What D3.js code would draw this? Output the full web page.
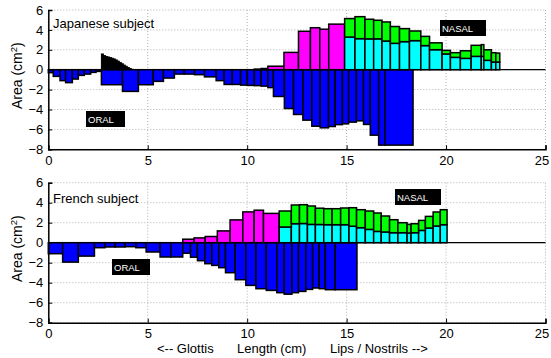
<!DOCTYPE html>
<html>
<head>
<meta charset="utf-8">
<script src="https://cdn.jsdelivr.net/npm/d3@7"></script>
<style>
  html, body { margin: 0; padding: 0; background: #fff; }
  svg { display: block; font-family: "Liberation Sans", Arial, Helvetica, sans-serif; }
</style>
</head>
<body>
<svg id="chart" width="551" height="358"></svg>
<script>
// ---------------- DATA ----------------
const xTicks = [0, 5, 10, 15, 20, 25];
const yTicks = [-8, -6, -4, -2, 0, 2, 4, 6];

// Japanese subject
const jpOralEdges = [0, 0.25, 0.59, 0.87, 1.21, 1.51, 1.81, 2.13, 2.40, 2.67, 3.73, 4.53, 5.28, 5.79, 6.34, 6.84, 7.35, 7.85, 8.44, 8.84, 9.25, 9.67, 10.01, 10.36, 10.70, 11.04, 11.32, 11.87, 12.33, 12.80, 13.25, 13.67, 14.09, 14.43, 14.79, 15.10, 15.49, 15.85, 16.19, 16.61, 16.92, 18.34];
const jpOralArea = [-0.3, -0.67, -1.1, -1.3, -0.94, -0.57, -0.44, -0.27, -0.17, -1.51, -2.18, -1.51, -1.17, -0.84, -0.44, -0.44, -0.5, -0.72, -1.1, -1.48, -1.48, -1.55, -1.58, -1.6, -1.65, -1.8, -2.69, -3.9, -4.5, -5.07, -5.68, -5.84, -5.71, -5.52, -5.44, -5.27, -5.14, -5.5, -6.58, -7.58, -7.58];
const jpSinusEdges = [2.67, 2.77, 2.87, 2.97, 3.07, 3.17, 3.27, 3.37, 3.47, 3.57, 3.67, 3.77, 3.87, 3.97, 4.07, 4.17, 4.27];
const jpSinusArea = [1.58, 1.42, 1.33, 1.28, 1.22, 1.15, 1.08, 0.98, 0.86, 0.72, 0.6, 0.46, 0.34, 0.22, 0.12, 0.04];
const jpUpperEdges = [10.36, 10.70, 11.04, 11.85, 12.58, 13.18, 13.65, 14.10, 14.90];
const jpUpperArea = [0.06, 0.12, 0.35, 1.74, 3.86, 4.22, 4.07, 4.58];
const jpNasalEdges = [14.90, 15.42, 15.92, 16.36, 16.78, 17.20, 17.66, 18.16, 18.73, 19.17, 19.80, 20.22, 20.72, 21.26, 21.77, 21.90, 22.28, 22.50, 22.70];
const jpNasalA = [3.28, 3.12, 3.10, 3.10, 2.88, 2.65, 2.82, 2.92, 2.42, 2.01, 1.58, 1.24, 1.14, 1.34, 1.34, 0.94, 0.77, 0.77];
const jpNasalB = [1.86, 2.21, 1.97, 1.87, 1.92, 1.69, 1.31, 0.97, 0.93, 0.69, 0.36, 0.47, 0.76, 1.11, 1.18, 1.06, 0.94, 0.90];

// French subject
const frOralEdges = [0, 0.72, 1.51, 2.32, 2.85, 3.36, 3.86, 4.40, 4.92, 5.62, 6.16, 6.76, 7.15, 7.50, 7.87, 8.22, 8.57, 8.91, 9.40, 9.93, 10.44, 10.96, 11.49, 11.86, 12.25, 12.58, 12.95, 13.29, 13.62, 13.93, 14.43, 15.52];
const frOralArea = [-1.1, -1.94, -1.34, -0.5, -0.43, -0.43, -0.4, -0.5, -0.93, -1.43, -1.43, -1.05, -1.45, -1.8, -2.1, -2.27, -2.5, -3.0, -3.7, -4.27, -4.6, -4.77, -5.0, -5.15, -5.0, -4.87, -4.67, -4.53, -4.6, -4.7, -4.7];
const frUpperEdges = [6.76, 7.33, 7.89, 8.50, 9.14, 9.78, 10.35, 10.82, 11.61];
const frUpperArea = [0.35, 0.48, 0.62, 1.18, 2.28, 3.08, 3.25, 2.93];
const frNasalEdges = [11.61, 12.22, 12.63, 13.03, 13.43, 13.85, 14.27, 14.70, 15.12, 15.50, 15.94, 16.36, 16.74, 17.16, 17.58, 18.04, 18.24, 18.62, 18.96, 19.35, 19.71, 20.05];
const frNasalA = [1.57, 1.90, 1.92, 1.83, 1.82, 1.80, 1.80, 1.80, 1.65, 1.50, 1.33, 1.13, 1.07, 1.00, 1.00, 0.97, 1.00, 1.23, 1.47, 1.67, 1.80];
const frNasalB = [1.60, 1.87, 1.88, 1.84, 1.63, 1.60, 1.60, 1.67, 1.85, 1.80, 1.84, 1.84, 1.60, 1.30, 1.00, 0.86, 0.90, 1.00, 1.16, 1.40, 1.50];

const panelTitles = ["Japanese subject", "French subject"];

// ---------------- DRAWING ----------------
const svg = d3.select("#chart");
const X0 = 48.3, X1 = 545.5;

function segs(edges, vals, base) {
  return vals.map((v, i) => ({ x0: edges[i], x1: edges[i + 1], b: base ? base[i] : 0, v: v }));
}

function panel(cfg) {
  const x = d3.scaleLinear().domain([0, 25]).range([X0, X1]);
  const y = d3.scaleLinear().domain([-8, 6]).range([cfg.bottom, cfg.top]);
  const g = svg.append("g");

  // grid
  g.append("g").selectAll("line").data(yTicks).join("line")
    .attr("x1", X0).attr("x2", X1).attr("y1", d => y(d)).attr("y2", d => y(d))
    .attr("stroke", "#b0b0b0").attr("stroke-width", 1).attr("stroke-dasharray", "1,2");
  g.append("g").selectAll("line").data(xTicks).join("line")
    .attr("y1", cfg.top).attr("y2", cfg.bottom).attr("x1", d => x(d)).attr("x2", d => x(d))
    .attr("stroke", "#b0b0b0").attr("stroke-width", 1).attr("stroke-dasharray", "1,2");

  const drawBars = (data, fill, sw) => {
    g.append("g").selectAll("rect").data(data).join("rect")
      .attr("x", d => x(d.x0)).attr("width", d => x(d.x1) - x(d.x0))
      .attr("y", d => Math.min(y(d.b), y(d.b + d.v)))
      .attr("height", d => Math.abs(y(d.b + d.v) - y(d.b)))
      .attr("fill", fill).attr("stroke", "#000").attr("stroke-width", sw);
  };

  // zero line
  g.append("line").attr("x1", X0).attr("x2", X1).attr("y1", y(0)).attr("y2", y(0))
    .attr("stroke", "#000").attr("stroke-width", 1.2);

  drawBars(segs(cfg.oralEdges, cfg.oralArea), "#0000ff", 1.5);
  if (cfg.sinusEdges) drawBars(segs(cfg.sinusEdges, cfg.sinusArea), "#000", 1);
  drawBars(segs(cfg.upperEdges, cfg.upperArea), "#ff00ff", 1.5);
  drawBars(segs(cfg.nasalEdges, cfg.nasalA), "#00ffff", 1.5);
  drawBars(segs(cfg.nasalEdges, cfg.nasalB, cfg.nasalA), "#00ff00", 1.5);

  // axes (left and bottom, inward ticks)
  const ax = d3.axisBottom(x).tickValues(xTicks).tickSize(-4).tickPadding(6).tickFormat(d3.format("d"));
  const ay = d3.axisLeft(y).tickValues(yTicks).tickSize(-4).tickPadding(5).tickFormat(d3.format("d"));
  const gx = g.append("g").attr("transform", `translate(0,${cfg.bottom})`).call(ax);
  const gy = g.append("g").attr("transform", `translate(${X0},0)`).call(ay);
  [gx, gy].forEach(a => {
    a.select(".domain").attr("stroke", "#000").attr("stroke-width", 1.5);
    a.selectAll(".tick line").attr("stroke", "#000").attr("stroke-width", 1);
    a.selectAll("text").attr("font-size", "13px").attr("fill", "#000")
      .attr("font-family", "Liberation Sans, Arial, sans-serif");
  });
  gx.selectAll(".tick text").attr("dy", "0.75em")
    .attr("dx", d => d === 25 ? -4 : 0);

  // title
  g.append("text").attr("x", 53).attr("y", cfg.titleY).attr("font-size", "13px").text(cfg.title);

  // y label
  const yl = g.append("text")
    .attr("transform", `translate(22,${(cfg.top + cfg.bottom) / 2 - 4}) rotate(-90)`)
    .attr("text-anchor", "middle").attr("font-size", "14px");
  yl.append("tspan").text("Area (cm");
  yl.append("tspan").attr("font-size", "9.5px").attr("dy", "-5").text("2");
  yl.append("tspan").attr("dy", "5").text(")");

  // tags
  const tag = (txt, bx, by, bw, bh) => {
    g.append("rect").attr("x", bx).attr("y", by).attr("width", bw).attr("height", bh).attr("fill", "#000");
    g.append("text").attr("x", bx + 2).attr("y", by + bh - 4.5).attr("fill", "#fff")
      .attr("font-size", "9.5px").text(txt);
  };
  tag("ORAL", cfg.oralTag[0], cfg.oralTag[1], cfg.oralTag[2], cfg.oralTag[3]);
  tag("NASAL", cfg.nasalTag[0], cfg.nasalTag[1], cfg.nasalTag[2], cfg.nasalTag[3]);
}

panel({
  top: 10, bottom: 149.3, title: panelTitles[0], titleY: 28,
  oralEdges: jpOralEdges, oralArea: jpOralArea,
  sinusEdges: jpSinusEdges, sinusArea: jpSinusArea,
  upperEdges: jpUpperEdges, upperArea: jpUpperArea,
  nasalEdges: jpNasalEdges, nasalA: jpNasalA, nasalB: jpNasalB,
  oralTag: [86, 111, 39, 16], nasalTag: [440, 20, 46, 16]
});
panel({
  top: 182.7, bottom: 322.7, title: panelTitles[1], titleY: 203,
  oralEdges: frOralEdges, oralArea: frOralArea,
  upperEdges: frUpperEdges, upperArea: frUpperArea,
  nasalEdges: frNasalEdges, nasalA: frNasalA, nasalB: frNasalB,
  oralTag: [112, 259, 38, 16], nasalTag: [395, 189, 46, 16]
});

// x label
const xl = svg.append("g").attr("font-size", "13px");
xl.append("text").attr("x", 157).attr("y", 353).text("<-- Glottis");
xl.append("text").attr("x", 237).attr("y", 353).text("Length (cm)");
xl.append("text").attr("x", 330).attr("y", 353).text("Lips / Nostrils -->");
</script>
</body>
</html>
